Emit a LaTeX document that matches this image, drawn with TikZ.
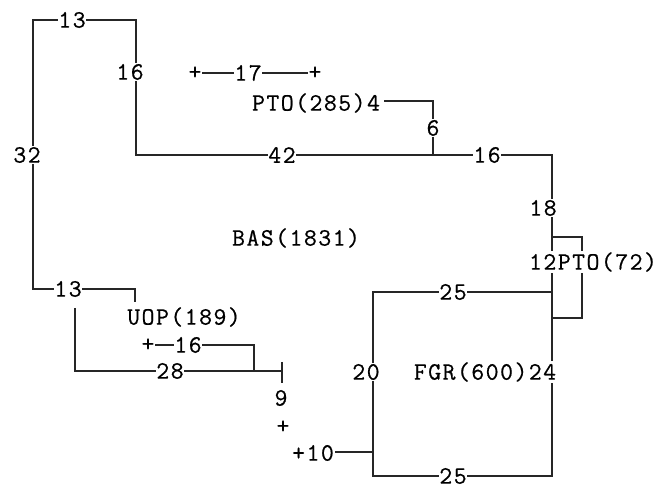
\documentclass[tikz,border=0pt]{standalone}
\usepackage{fontspec}
\usepackage{tikz}
\usetikzlibrary{positioning}
\newfontfamily\planmono{Latin Modern Mono}[LetterSpace=6, FakeBold=0.6]
\newcommand{\planfont}{\planmono\fontsize{25}{28}\selectfont}
\tikzset{
  % plan lines
  wall/.style  = {line width=1.3pt, draw=black!85},
  % dimensions and room names
  dim/.style   = {font=\planfont, fill=white, inner sep=0.8pt},
  room/.style  = {font=\planfont, inner sep=1pt},
}
\begin{document}
\begin{tikzpicture}[x=1pt, y=-1pt]
  \useasboundingbox (0,0) rectangle (662,489);
  % corners
  \coordinate (a1) at (135,302);
  \coordinate (a2) at (135,289);
  \coordinate (a3) at (33,289);
  \coordinate (a4) at (33,20);
  \coordinate (a5) at (136,20);
  \coordinate (a6) at (136,155);
  \coordinate (a7) at (552,155);
  \coordinate (a8) at (552,476);
  \coordinate (a9) at (373,476);
  \coordinate (a10) at (373,292);
  \coordinate (a11) at (552,292);
  % main outline
  \draw[wall] (a1) -- (a2) -- (a3) -- (a4) -- (a5) -- (a6) -- (a7) -- (a8)
    -- (a9) -- (a10) -- (a11);
  % PTO(72)
  \draw[wall] (552,237) -- (582,237) -- (582,318) -- (552,318);
  % PTO(285)
  \draw[wall] (384,101) -- (433,101) -- (433,155);
  % UOP
  \draw[wall] (75,308) -- (75,371) -- (282,371);
  \draw[wall] (282,362) -- (282,383);
  \draw[wall] (148,345) -- (254,345) -- (254,371);
  % 17
  \draw[wall] (195,73) -- (315,73);
  % 10
  \draw[wall] (330,452) -- (373,452);
  \draw[wall] (373,441) -- (373,463);
  % Labels
  \node[dim] (d13a) at (72,20) {13};
  \node[dim] (d16a) at (130,72) {16};
  \node[dim] (d32) at (27,155) {32};
  \node[dim] (d42) at (282,155) {42};
  \node[dim] (d16b) at (487,155) {16};
  \node[dim] (d18) at (543,208) {18};
  \node[dim] (d12) at (593,262) {12PTO(72)};
  \node[dim] (d25a) at (453,292) {25};
  \node[dim] (d20) at (366,372) {20};
  \node[dim] (d24) at (485,372) {FGR(600)24};
  \node[dim, inner sep=0.3pt] (d25b) at (453,476) {25};
  \node[room] (bas) at (296,238) {BAS(1831)};
  \node[dim] (pto) at (316,103) {PTO(285)4};
  \node[dim] (d6) at (433,128) {6};
  \node[dim] (p1) at (195,73) {+};
  \node[dim] (d17) at (248,73) {17};
  \node[dim] (p2) at (315,73) {+};
  \node[dim] (d13b) at (68,289) {13};
  \node[dim] (uop) at (184,317) {UOP(189)};
  \node[dim] (p3) at (148,345) {+};
  \node[dim] (d16c) at (188,345) {16};
  \node[dim] (d28) at (170,371) {28};
  \node[room] (d9) at (281,398) {9};
  \node[room] (p4) at (283,427) {+};
  \node[dim] (d10) at (313,453) {+10};
\end{tikzpicture}
\end{document}
